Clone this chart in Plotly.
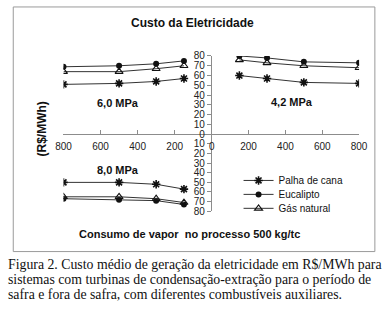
import plotly.graph_objects as go

W, H = 392, 309

# ---- data ----
series = ["Palha de cana", "Eucalipto", "Gás natural"]
x_60 = [800, 500, 300, 150]
x_42 = [150, 300, 500, 800]
x_80 = [800, 500, 300, 150]

palha_60 = [51, 52, 54, 57]
eucal_60 = [69, 70, 72, 75]
gas_60 = [64, 64, 67, 70]

palha_42 = [60, 57, 53, 52]
eucal_42 = [80, 78, 74, 73]
gas_42 = [76, 73, 70, 68]

palha_80 = [50, 50, 52, 57]
eucal_80 = [67, 68, 69, 73]
gas_80 = [65, 65, 67, 71]

left_ticks = [800, 600, 400, 200]
right_ticks = [0, 200, 400, 600, 800]
top_yticks = [0, 10, 20, 30, 40, 50, 60, 70, 80]
bot_yticks = [10, 20, 30, 40, 50, 60, 70, 80]

FONT = "Arial, Liberation Sans, sans-serif"
LINE = "#333333"

def px(x):
    return x / W

def py(y):
    return 1 - y / H

styles = {
    "Palha de cana": dict(symbol="asterisk-open", size=7, color="#111", line=dict(width=1.6, color="#111")),
    "Eucalipto": dict(symbol="circle", size=6, color="#111", line=dict(width=0)),
    "Gás natural": dict(symbol="triangle-up-open", size=7, color="#111", line=dict(width=1.1, color="#111")),
}
legend_ids = {"Palha de cana": "legend", "Eucalipto": "legend2", "Gás natural": "legend3"}
legend_rows = {"legend": 181.5, "legend2": 196, "legend3": 210.5}

fig = go.Figure()

panels = [
    (x_60, [palha_60, eucal_60, gas_60], "x", "y"),
    (x_42, [palha_42, eucal_42, gas_42], "x2", "y"),
    (x_80, [palha_80, eucal_80, gas_80], "x", "y2"),
]
for pi, (xs, ys_list, xa, ya) in enumerate(panels):
    for name, ys in zip(series, ys_list):
        fig.add_trace(go.Scatter(
            x=xs, y=ys, xaxis=xa, yaxis=ya, name=name,
            mode="lines+markers",
            line=dict(color=LINE, width=1),
            marker=styles[name],
            showlegend=(pi == 1), legend=legend_ids[name],
        ))

axis_common = dict(showgrid=False, zeroline=False, showline=True,
                   linecolor="#8c8c8c", linewidth=1, tickcolor="#8c8c8c",
                   ticklen=4, tickfont=dict(family=FONT, size=10, color="#222"))

leg_common = dict(xanchor="left", yanchor="middle",
                  font=dict(family=FONT, size=10, color="#111"),
                  bgcolor="rgba(0,0,0,0)", itemwidth=30, borderwidth=0)

fig.update_layout(
    width=W, height=H,
    margin=dict(l=0, r=0, t=0, b=0),
    paper_bgcolor="white", plot_bgcolor="rgba(0,0,0,0)",
    xaxis=dict(domain=[px(58), px(213)], range=[800, 0], anchor="y",
               tickmode="array", tickvals=left_ticks, ticks="inside",
               ticklabelstandoff=3, **axis_common),
    xaxis2=dict(domain=[px(213), px(367)], range=[0, 800], anchor="y",
                tickmode="array", tickvals=right_ticks, ticks="inside",
                ticklabelstandoff=3, **axis_common),
    yaxis=dict(domain=[py(133.5), py(52)], range=[0, 80], anchor="x2",
               tickmode="array", tickvals=top_yticks, ticks="outside", **axis_common),
    yaxis2=dict(domain=[py(213.5), py(133.5)], range=[80, 0], anchor="x2",
                tickmode="array", tickvals=bot_yticks, ticks="outside", **axis_common),
    legend=dict(x=px(241), y=py(legend_rows["legend"]), **leg_common),
    legend2=dict(x=px(241), y=py(legend_rows["legend2"]), **leg_common),
    legend3=dict(x=px(241), y=py(legend_rows["legend3"]), **leg_common),
    showlegend=True,
)

# frame
fig.add_shape(type="rect", xref="paper", yref="paper",
              x0=px(5.5), x1=px(383.5), y0=py(255.5), y1=py(1),
              line=dict(color="#9a9a9a", width=1))

def ann(text, x, y, size=11, bold=True, angle=0, family=FONT, xanchor="center"):
    fig.add_annotation(text=("<b>%s</b>" % text) if bold else text,
                       x=px(x), y=py(y), xref="paper", yref="paper",
                       showarrow=False, textangle=angle, xanchor=xanchor, yanchor="middle",
                       font=dict(family=family, size=size, color="#111"))

ann("Custo da Eletricidade", 193, 18, size=12)
ann("6,0 MPa", 115, 101, size=11)
ann("4,2 MPa", 297, 100, size=11)
ann("8,0 MPa", 115, 171, size=11)
ann("(R$/MWh)", 36, 128, size=12, angle=-90)
ann("Consumo de vapor\u00a0 no processo 500 kg/tc", 190, 237, size=11)

caption = [
    "Figura 2. Custo médio de geração da eletricidade em R$/MWh para",
    "sistemas com turbinas de condensação-extração para o período de",
    "safra e fora de safra, com diferentes combustíveis auxiliares.",
]
for i, line in enumerate(caption):
    ann(line, -2, 269 + 15.5 * i, size=13.8, bold=False,
        family="Liberation Serif, Times New Roman, serif", xanchor="left")

fig.write_html("out.html", config={"displayModeBar": False},
               post_script="document.body.style.margin='0';document.body.style.overflow='hidden';")
